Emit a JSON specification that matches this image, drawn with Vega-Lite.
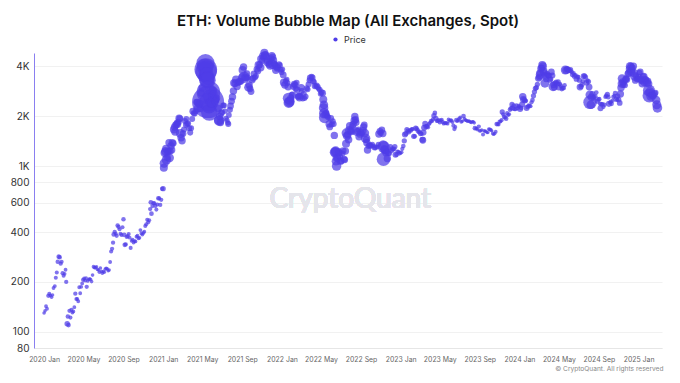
{
"$schema":"https://vega.github.io/schema/vega-lite/v6.json",
"width":628,"height":295,
"autosize":{"type":"none"},
"padding":{"left":34,"top":53,"right":18,"bottom":35},
"background":"white",
"title":{"text":"ETH: Volume Bubble Map (All Exchanges, Spot)","font":"Inter","fontSize":15,"fontWeight":600,"color":"#111111","anchor":"middle","offset":6},
"config":{"view":{"stroke":null},"legend":{"layout":{"top":{"anchor":"middle"}}}},
"data":{"values":[
{"d":"2020-01-01","p":130,"v":0.7},{"d":"2020-01-04","p":134,"v":0.7},{"d":"2020-01-07","p":143,"v":0.8},{"d":"2020-01-10","p":138,"v":0.8},{"d":"2020-01-14","p":165,"v":1},{"d":"2020-01-17","p":170,"v":0.9},{"d":"2020-01-20","p":166,"v":0.7},{"d":"2020-01-24","p":162,"v":0.7},{"d":"2020-01-27","p":167,"v":0.7},{"d":"2020-01-30","p":184,"v":0.8},{"d":"2020-02-03","p":189,"v":0.8},{"d":"2020-02-06","p":212,"v":0.9},{"d":"2020-02-09","p":228,"v":0.9},{"d":"2020-02-12","p":265,"v":1.1},{"d":"2020-02-15","p":284,"v":1.2},{"d":"2020-02-18","p":282,"v":1.1},{"d":"2020-02-21","p":258,"v":1},{"d":"2020-02-24","p":265,"v":0.9},{"d":"2020-02-27","p":226,"v":1},{"d":"2020-03-01","p":218,"v":0.9},{"d":"2020-03-04","p":224,"v":0.8},{"d":"2020-03-07","p":237,"v":0.8},{"d":"2020-03-09","p":200,"v":1},{"d":"2020-03-12","p":112,"v":1.6},{"d":"2020-03-14","p":124,"v":1.1},{"d":"2020-03-16","p":110,"v":1.2},{"d":"2020-03-19","p":134,"v":1},{"d":"2020-03-22","p":122,"v":0.9},{"d":"2020-03-25","p":136,"v":0.9},{"d":"2020-03-28","p":131,"v":0.8},{"d":"2020-03-31","p":133,"v":0.8},{"d":"2020-04-03","p":141,"v":0.8},{"d":"2020-04-06","p":170,"v":1},{"d":"2020-04-09","p":158,"v":0.8},{"d":"2020-04-12","p":158,"v":0.8},{"d":"2020-04-15","p":153,"v":0.8},{"d":"2020-04-18","p":186,"v":0.8},{"d":"2020-04-21","p":171,"v":0.8},{"d":"2020-04-24","p":187,"v":0.8},{"d":"2020-04-27","p":196,"v":0.8},{"d":"2020-04-30","p":206,"v":1},{"d":"2020-05-03","p":210,"v":0.8},{"d":"2020-05-06","p":204,"v":0.8},{"d":"2020-05-09","p":211,"v":0.8},{"d":"2020-05-11","p":187,"v":1},{"d":"2020-05-14","p":203,"v":0.8},{"d":"2020-05-17","p":207,"v":0.7},{"d":"2020-05-20","p":209,"v":0.7},{"d":"2020-05-23","p":207,"v":0.7},{"d":"2020-05-26","p":201,"v":0.7},{"d":"2020-05-29","p":220,"v":0.7},{"d":"2020-06-01","p":247,"v":0.8},{"d":"2020-06-04","p":244,"v":0.7},{"d":"2020-06-07","p":244,"v":0.7},{"d":"2020-06-10","p":247,"v":0.7},{"d":"2020-06-13","p":238,"v":0.7},{"d":"2020-06-16","p":236,"v":0.7},{"d":"2020-06-19","p":229,"v":0.7},{"d":"2020-06-22","p":243,"v":0.7},{"d":"2020-06-25","p":232,"v":0.7},{"d":"2020-06-28","p":226,"v":0.7},{"d":"2020-07-01","p":231,"v":0.7},{"d":"2020-07-04","p":229,"v":0.7},{"d":"2020-07-07","p":239,"v":0.7},{"d":"2020-07-10","p":242,"v":0.7},{"d":"2020-07-13","p":240,"v":0.7},{"d":"2020-07-16","p":234,"v":0.7},{"d":"2020-07-19","p":236,"v":0.7},{"d":"2020-07-22","p":264,"v":0.8},{"d":"2020-07-25","p":305,"v":0.9},{"d":"2020-07-28","p":317,"v":1},{"d":"2020-07-31","p":345,"v":1},{"d":"2020-08-02","p":387,"v":1.2},{"d":"2020-08-05","p":401,"v":1},{"d":"2020-08-08","p":391,"v":0.9},{"d":"2020-08-11","p":380,"v":1},{"d":"2020-08-14","p":438,"v":1.1},{"d":"2020-08-17","p":429,"v":1},{"d":"2020-08-20","p":416,"v":0.9},{"d":"2020-08-23","p":391,"v":0.9},{"d":"2020-08-26","p":384,"v":0.9},{"d":"2020-08-29","p":428,"v":0.9},{"d":"2020-09-01","p":477,"v":1.1},{"d":"2020-09-03","p":385,"v":1.2},{"d":"2020-09-05","p":335,"v":1.2},{"d":"2020-09-08","p":337,"v":1},{"d":"2020-09-11","p":374,"v":0.9},{"d":"2020-09-14","p":378,"v":0.9},{"d":"2020-09-17","p":389,"v":0.9},{"d":"2020-09-20","p":370,"v":0.8},{"d":"2020-09-23","p":321,"v":0.9},{"d":"2020-09-26","p":354,"v":0.8},{"d":"2020-09-29","p":360,"v":0.8},{"d":"2020-10-02","p":346,"v":0.8},{"d":"2020-10-05","p":353,"v":0.8},{"d":"2020-10-08","p":351,"v":0.8},{"d":"2020-10-11","p":375,"v":0.8},{"d":"2020-10-14","p":380,"v":0.8},{"d":"2020-10-17","p":367,"v":0.8},{"d":"2020-10-20","p":369,"v":0.8},{"d":"2020-10-23","p":411,"v":0.8},{"d":"2020-10-26","p":393,"v":0.8},{"d":"2020-10-29","p":386,"v":0.8},{"d":"2020-11-01","p":395,"v":0.8},{"d":"2020-11-04","p":402,"v":0.8},{"d":"2020-11-07","p":435,"v":0.9},{"d":"2020-11-10","p":446,"v":0.9},{"d":"2020-11-13","p":475,"v":0.9},{"d":"2020-11-16","p":459,"v":0.9},{"d":"2020-11-19","p":471,"v":0.9},{"d":"2020-11-22","p":550,"v":1},{"d":"2020-11-24","p":604,"v":1.2},{"d":"2020-11-26","p":516,"v":1.2},{"d":"2020-11-29","p":574,"v":1},{"d":"2020-12-02","p":597,"v":1},{"d":"2020-12-05","p":596,"v":0.9},{"d":"2020-12-08","p":575,"v":0.9},{"d":"2020-12-11","p":546,"v":0.9},{"d":"2020-12-14","p":586,"v":0.9},{"d":"2020-12-17","p":640,"v":1.1},{"d":"2020-12-20","p":638,"v":0.9},{"d":"2020-12-23","p":583,"v":1},{"d":"2020-12-26","p":626,"v":1},{"d":"2020-12-29","p":730,"v":1.1},
{"d":"2021-01-01","p":730,"v":1.5},{"d":"2021-01-03","p":975,"v":3.5},{"d":"2021-01-04","p":1040,"v":4.5},{"d":"2021-01-06","p":1200,"v":4},{"d":"2021-01-08","p":1225,"v":4},{"d":"2021-01-10","p":1270,"v":3.5},{"d":"2021-01-11","p":1090,"v":5},{"d":"2021-01-13","p":1130,"v":3},{"d":"2021-01-15","p":1215,"v":3},{"d":"2021-01-17","p":1230,"v":2.5},{"d":"2021-01-19","p":1380,"v":3},{"d":"2021-01-21","p":1120,"v":4},{"d":"2021-01-23","p":1230,"v":2.5},{"d":"2021-01-25","p":1320,"v":3},{"d":"2021-01-27","p":1250,"v":3},{"d":"2021-01-29","p":1380,"v":3},{"d":"2021-02-01","p":1370,"v":2.5},{"d":"2021-02-03","p":1660,"v":3.5},{"d":"2021-02-05","p":1720,"v":3},{"d":"2021-02-07","p":1610,"v":3.5},{"d":"2021-02-09","p":1770,"v":3},{"d":"2021-02-11","p":1780,"v":2.5},{"d":"2021-02-13","p":1820,"v":2.5},{"d":"2021-02-15","p":1780,"v":2.5},{"d":"2021-02-17","p":1840,"v":2.5},{"d":"2021-02-19","p":1940,"v":3},{"d":"2021-02-21","p":1930,"v":2.5},{"d":"2021-02-23","p":1570,"v":4.5},{"d":"2021-02-25","p":1480,"v":3},{"d":"2021-02-28","p":1420,"v":3},{"d":"2021-03-03","p":1570,"v":2.5},{"d":"2021-03-06","p":1660,"v":2},{"d":"2021-03-09","p":1870,"v":2},{"d":"2021-03-12","p":1770,"v":2},{"d":"2021-03-13","p":1920,"v":2},{"d":"2021-03-16","p":1790,"v":2},{"d":"2021-03-19","p":1810,"v":1.8},{"d":"2021-03-22","p":1690,"v":2},{"d":"2021-03-25","p":1590,"v":2},{"d":"2021-03-28","p":1690,"v":1.8},{"d":"2021-03-31","p":1920,"v":2},{"d":"2021-04-02","p":2140,"v":2.5},{"d":"2021-04-05","p":2080,"v":2},{"d":"2021-04-08","p":2070,"v":2},{"d":"2021-04-11","p":2140,"v":1.8},{"d":"2021-04-14","p":2430,"v":2.5},{"d":"2021-04-16","p":2420,"v":3},{"d":"2021-04-18","p":2230,"v":4},{"d":"2021-04-21","p":2360,"v":2.5},{"d":"2021-04-23","p":2370,"v":3.5},{"d":"2021-04-25","p":2220,"v":3},{"d":"2021-04-28","p":2750,"v":3},{"d":"2021-05-01","p":2950,"v":3},{"d":"2021-05-03","p":3430,"v":5},{"d":"2021-05-05","p":3530,"v":5},{"d":"2021-05-07","p":3480,"v":5},{"d":"2021-05-09","p":3920,"v":8},{"d":"2021-05-10","p":3950,"v":15},{"d":"2021-05-11","p":4170,"v":18},{"d":"2021-05-12","p":3820,"v":28},{"d":"2021-05-13","p":3720,"v":25},{"d":"2021-05-15","p":3580,"v":10},{"d":"2021-05-16","p":3280,"v":12},{"d":"2021-05-17","p":3290,"v":15},{"d":"2021-05-18","p":3380,"v":10},{"d":"2021-05-19","p":2430,"v":56},{"d":"2021-05-20","p":2780,"v":30},{"d":"2021-05-21","p":2430,"v":20},{"d":"2021-05-22","p":2300,"v":12},{"d":"2021-05-23","p":2100,"v":15},{"d":"2021-05-24","p":2640,"v":10},{"d":"2021-05-26","p":2880,"v":6},{"d":"2021-05-28","p":2420,"v":6},{"d":"2021-05-30","p":2400,"v":4},{"d":"2021-06-01","p":2630,"v":4},{"d":"2021-06-03","p":2860,"v":3.5},{"d":"2021-06-06","p":2720,"v":3},{"d":"2021-06-08","p":2520,"v":4},{"d":"2021-06-10","p":2450,"v":3},{"d":"2021-06-13","p":2510,"v":2.5},{"d":"2021-06-15","p":2570,"v":2.5},{"d":"2021-06-18","p":2230,"v":3},{"d":"2021-06-21","p":1890,"v":5},{"d":"2021-06-22","p":1880,"v":6},{"d":"2021-06-24","p":1990,"v":3},{"d":"2021-06-26","p":1830,"v":3},{"d":"2021-06-28","p":2080,"v":2.5},{"d":"2021-07-01","p":2110,"v":2},{"d":"2021-07-04","p":2320,"v":1.8},{"d":"2021-07-07","p":2320,"v":1.8},{"d":"2021-07-10","p":2140,"v":1.5},{"d":"2021-07-13","p":1940,"v":1.5},{"d":"2021-07-16","p":1890,"v":1.5},{"d":"2021-07-19","p":1820,"v":1.5},{"d":"2021-07-20","p":1790,"v":2},{"d":"2021-07-22","p":2030,"v":1.8},{"d":"2021-07-25","p":2180,"v":2},{"d":"2021-07-27","p":2300,"v":2.5},{"d":"2021-07-30","p":2460,"v":2.5},{"d":"2021-08-02","p":2610,"v":3},{"d":"2021-08-05","p":2830,"v":3},{"d":"2021-08-07","p":3160,"v":3.5},{"d":"2021-08-10","p":3140,"v":3},{"d":"2021-08-13","p":3320,"v":3.5},{"d":"2021-08-16","p":3010,"v":3},{"d":"2021-08-19","p":3180,"v":2.5},{"d":"2021-08-22","p":3240,"v":2.5},{"d":"2021-08-25","p":3230,"v":2.5},{"d":"2021-08-28","p":3240,"v":2.5},{"d":"2021-08-31","p":3430,"v":3},{"d":"2021-09-02","p":3790,"v":3.5},{"d":"2021-09-05","p":3950,"v":3},{"d":"2021-09-07","p":3430,"v":7},{"d":"2021-09-09","p":3430,"v":3},{"d":"2021-09-12","p":3400,"v":2.5},{"d":"2021-09-15","p":3610,"v":2.5},{"d":"2021-09-18","p":3400,"v":2},{"d":"2021-09-20","p":2980,"v":4},{"d":"2021-09-22","p":3080,"v":3},{"d":"2021-09-25","p":2920,"v":2.5},{"d":"2021-09-28","p":2810,"v":2.5},{"d":"2021-10-01","p":3310,"v":3},{"d":"2021-10-04","p":3380,"v":2.5},{"d":"2021-10-07","p":3590,"v":2.5},{"d":"2021-10-10","p":3420,"v":2},{"d":"2021-10-13","p":3490,"v":2},{"d":"2021-10-16","p":3830,"v":2.5},{"d":"2021-10-19","p":3740,"v":2.5},{"d":"2021-10-21","p":4060,"v":3.5},{"d":"2021-10-24","p":4080,"v":2.5},{"d":"2021-10-27","p":3930,"v":3.5},{"d":"2021-10-29","p":4410,"v":3.5},{"d":"2021-11-01","p":4310,"v":2.5},{"d":"2021-11-03","p":4600,"v":3},{"d":"2021-11-06","p":4520,"v":2.5},{"d":"2021-11-08","p":4810,"v":3.5},{"d":"2021-11-10","p":4650,"v":4},{"d":"2021-11-12","p":4670,"v":2.5},{"d":"2021-11-15","p":4570,"v":2.5},{"d":"2021-11-17","p":4210,"v":3},{"d":"2021-11-19","p":4290,"v":3},{"d":"2021-11-22","p":4090,"v":2.5},{"d":"2021-11-24","p":4270,"v":2.5},{"d":"2021-11-26","p":4040,"v":4},{"d":"2021-11-29","p":4440,"v":2.5},{"d":"2021-12-01","p":4630,"v":3},{"d":"2021-12-03","p":4530,"v":3},{"d":"2021-12-04","p":4100,"v":5},{"d":"2021-12-06","p":4340,"v":3},{"d":"2021-12-09","p":4100,"v":2.5},{"d":"2021-12-11","p":4080,"v":2},{"d":"2021-12-13","p":3780,"v":3},{"d":"2021-12-15","p":3960,"v":3},{"d":"2021-12-17","p":3860,"v":2},{"d":"2021-12-20","p":3940,"v":2},{"d":"2021-12-23","p":4110,"v":2},{"d":"2021-12-26","p":4050,"v":1.8},{"d":"2021-12-28","p":3800,"v":2},{"d":"2021-12-31","p":3680,"v":1.8},
{"d":"2022-01-02","p":3830,"v":1.8},{"d":"2022-01-05","p":3540,"v":2.5},{"d":"2022-01-07","p":3190,"v":3.5},{"d":"2022-01-10","p":3080,"v":3},{"d":"2022-01-13","p":3250,"v":2},{"d":"2022-01-16","p":3330,"v":1.5},{"d":"2022-01-18","p":3160,"v":2},{"d":"2022-01-20","p":3000,"v":3},{"d":"2022-01-21","p":2560,"v":7},{"d":"2022-01-22","p":2410,"v":6},{"d":"2022-01-24","p":2440,"v":6},{"d":"2022-01-26","p":2460,"v":4},{"d":"2022-01-28","p":2550,"v":3},{"d":"2022-01-31","p":2690,"v":2},{"d":"2022-02-03","p":2680,"v":2.5},{"d":"2022-02-05","p":3020,"v":2.5},{"d":"2022-02-08","p":3120,"v":2.5},{"d":"2022-02-10","p":3080,"v":2.5},{"d":"2022-02-12","p":2920,"v":2},{"d":"2022-02-15","p":3180,"v":2},{"d":"2022-02-17","p":2880,"v":2.5},{"d":"2022-02-20","p":2620,"v":2.5},{"d":"2022-02-22","p":2640,"v":2.5},{"d":"2022-02-24","p":2600,"v":4},{"d":"2022-02-27","p":2620,"v":2},{"d":"2022-03-01","p":2970,"v":3},{"d":"2022-03-03","p":2830,"v":2},{"d":"2022-03-06","p":2550,"v":1.8},{"d":"2022-03-09","p":2730,"v":2},{"d":"2022-03-12","p":2560,"v":1.5},{"d":"2022-03-15","p":2620,"v":1.8},{"d":"2022-03-18","p":2940,"v":2},{"d":"2022-03-21","p":2900,"v":1.8},{"d":"2022-03-24","p":3110,"v":2},{"d":"2022-03-27","p":3290,"v":2},{"d":"2022-03-29","p":3400,"v":2.5},{"d":"2022-04-02","p":3450,"v":2},{"d":"2022-04-05","p":3410,"v":2},{"d":"2022-04-07","p":3240,"v":2},{"d":"2022-04-10","p":3210,"v":1.5},{"d":"2022-04-12","p":3030,"v":2},{"d":"2022-04-15","p":3040,"v":1.5},{"d":"2022-04-18","p":3060,"v":1.8},{"d":"2022-04-21","p":2990,"v":2},{"d":"2022-04-24","p":2920,"v":1.5},{"d":"2022-04-27","p":2890,"v":1.8},{"d":"2022-04-30","p":2730,"v":1.8},{"d":"2022-05-03","p":2780,"v":2},{"d":"2022-05-06","p":2750,"v":2.5},{"d":"2022-05-08","p":2520,"v":3.5},{"d":"2022-05-09","p":2240,"v":5},{"d":"2022-05-10","p":2340,"v":4},{"d":"2022-05-11","p":2080,"v":6},{"d":"2022-05-12","p":1960,"v":7},{"d":"2022-05-14","p":2050,"v":3},{"d":"2022-05-17","p":2090,"v":2},{"d":"2022-05-20","p":2010,"v":2},{"d":"2022-05-23","p":1970,"v":2},{"d":"2022-05-26","p":1790,"v":3},{"d":"2022-05-28","p":1720,"v":2.5},{"d":"2022-05-31","p":1940,"v":2.5},{"d":"2022-06-03","p":1780,"v":2},{"d":"2022-06-06","p":1860,"v":2},{"d":"2022-06-09","p":1790,"v":2},{"d":"2022-06-11","p":1530,"v":3},{"d":"2022-06-13","p":1210,"v":6},{"d":"2022-06-14","p":1210,"v":5},{"d":"2022-06-15","p":1230,"v":5},{"d":"2022-06-16","p":1070,"v":4},{"d":"2022-06-18","p":1000,"v":5},{"d":"2022-06-19","p":1120,"v":4},{"d":"2022-06-21","p":1120,"v":3},{"d":"2022-06-24","p":1220,"v":3},{"d":"2022-06-26","p":1200,"v":2.5},{"d":"2022-06-28","p":1140,"v":2.5},{"d":"2022-06-30","p":1070,"v":3},{"d":"2022-07-03","p":1070,"v":2},{"d":"2022-07-06","p":1190,"v":2},{"d":"2022-07-08","p":1240,"v":2.5},{"d":"2022-07-11","p":1100,"v":2.5},{"d":"2022-07-13","p":1090,"v":2.5},{"d":"2022-07-15","p":1230,"v":3},{"d":"2022-07-17","p":1360,"v":3.5},{"d":"2022-07-18","p":1580,"v":5},{"d":"2022-07-20","p":1520,"v":4},{"d":"2022-07-22","p":1540,"v":3},{"d":"2022-07-25","p":1440,"v":3},{"d":"2022-07-27","p":1640,"v":4},{"d":"2022-07-29","p":1740,"v":3.5},{"d":"2022-08-01","p":1630,"v":3},{"d":"2022-08-04","p":1610,"v":2.5},{"d":"2022-08-06","p":1730,"v":2.5},{"d":"2022-08-08","p":1780,"v":3},{"d":"2022-08-11","p":1880,"v":3},{"d":"2022-08-13","p":1990,"v":3},{"d":"2022-08-15","p":1900,"v":3},{"d":"2022-08-17","p":1830,"v":2.5},{"d":"2022-08-19","p":1610,"v":4},{"d":"2022-08-22","p":1620,"v":2.5},{"d":"2022-08-24","p":1660,"v":2},{"d":"2022-08-26","p":1500,"v":3},{"d":"2022-08-29","p":1550,"v":2.5},{"d":"2022-09-01","p":1590,"v":2.5},{"d":"2022-09-04","p":1570,"v":2},{"d":"2022-09-07","p":1630,"v":3},{"d":"2022-09-09","p":1720,"v":3},{"d":"2022-09-11","p":1770,"v":2.5},{"d":"2022-09-13","p":1580,"v":4},{"d":"2022-09-15","p":1470,"v":5},{"d":"2022-09-17","p":1440,"v":2.5},{"d":"2022-09-19","p":1380,"v":3},{"d":"2022-09-21","p":1250,"v":3},{"d":"2022-09-24","p":1320,"v":2},{"d":"2022-09-27","p":1340,"v":2},{"d":"2022-09-30","p":1330,"v":1.8},{"d":"2022-10-03","p":1320,"v":1.5},{"d":"2022-10-06","p":1350,"v":1.5},{"d":"2022-10-09","p":1320,"v":1.2},{"d":"2022-10-12","p":1290,"v":1.5},{"d":"2022-10-15","p":1280,"v":1.2},{"d":"2022-10-18","p":1310,"v":1.2},{"d":"2022-10-21","p":1300,"v":1.2},{"d":"2022-10-24","p":1350,"v":1.5},{"d":"2022-10-26","p":1560,"v":3},{"d":"2022-10-29","p":1620,"v":2.5},{"d":"2022-11-01","p":1580,"v":2},{"d":"2022-11-04","p":1650,"v":2.5},{"d":"2022-11-07","p":1570,"v":3},{"d":"2022-11-08","p":1330,"v":6},{"d":"2022-11-09","p":1100,"v":10},{"d":"2022-11-10","p":1300,"v":8},{"d":"2022-11-12","p":1260,"v":4},{"d":"2022-11-14","p":1250,"v":3.5},{"d":"2022-11-16","p":1200,"v":2.5},{"d":"2022-11-19","p":1220,"v":1.8},{"d":"2022-11-21","p":1110,"v":3},{"d":"2022-11-24","p":1200,"v":2},{"d":"2022-11-27","p":1190,"v":1.5},{"d":"2022-11-30","p":1300,"v":2},{"d":"2022-12-03","p":1240,"v":1.5},{"d":"2022-12-06","p":1270,"v":1.5},{"d":"2022-12-09","p":1260,"v":1.2},{"d":"2022-12-12","p":1270,"v":1.2},{"d":"2022-12-14","p":1310,"v":1.5},{"d":"2022-12-16","p":1170,"v":2},{"d":"2022-12-19","p":1170,"v":1.2},{"d":"2022-12-22","p":1220,"v":1},{"d":"2022-12-25","p":1220,"v":0.8},{"d":"2022-12-28","p":1190,"v":1},{"d":"2022-12-31","p":1200,"v":0.8},
{"d":"2023-01-03","p":1210,"v":1},{"d":"2023-01-06","p":1270,"v":1},{"d":"2023-01-09","p":1320,"v":1.2},{"d":"2023-01-12","p":1420,"v":1.5},{"d":"2023-01-14","p":1550,"v":2},{"d":"2023-01-17","p":1570,"v":1.5},{"d":"2023-01-20","p":1660,"v":1.5},{"d":"2023-01-23","p":1630,"v":1.2},{"d":"2023-01-26","p":1600,"v":1.2},{"d":"2023-01-29","p":1640,"v":1},{"d":"2023-02-01","p":1640,"v":1.2},{"d":"2023-02-04","p":1670,"v":1},{"d":"2023-02-07","p":1670,"v":1},{"d":"2023-02-10","p":1510,"v":1.5},{"d":"2023-02-13","p":1510,"v":1.2},{"d":"2023-02-16","p":1690,"v":1.5},{"d":"2023-02-19","p":1680,"v":1.2},{"d":"2023-02-22","p":1640,"v":1.2},{"d":"2023-02-25","p":1600,"v":1},{"d":"2023-02-28","p":1610,"v":1},{"d":"2023-03-03","p":1570,"v":1.5},{"d":"2023-03-06","p":1560,"v":1},{"d":"2023-03-09","p":1440,"v":2},{"d":"2023-03-10","p":1430,"v":2.5},{"d":"2023-03-12","p":1590,"v":2},{"d":"2023-03-14","p":1700,"v":2},{"d":"2023-03-17","p":1800,"v":1.8},{"d":"2023-03-20","p":1730,"v":1.5},{"d":"2023-03-23","p":1740,"v":1.2},{"d":"2023-03-26","p":1710,"v":1},{"d":"2023-03-29","p":1790,"v":1},{"d":"2023-04-01","p":1820,"v":0.9},{"d":"2023-04-04","p":1870,"v":1},{"d":"2023-04-07","p":1860,"v":0.9},{"d":"2023-04-10","p":1910,"v":1},{"d":"2023-04-13","p":2010,"v":1.5},{"d":"2023-04-16","p":2090,"v":1.2},{"d":"2023-04-19","p":1940,"v":1.5},{"d":"2023-04-22","p":1870,"v":1},{"d":"2023-04-25","p":1870,"v":1},{"d":"2023-04-28","p":1890,"v":0.9},{"d":"2023-05-01","p":1830,"v":1},{"d":"2023-05-04","p":1880,"v":0.9},{"d":"2023-05-07","p":1900,"v":0.9},{"d":"2023-05-10","p":1840,"v":1},{"d":"2023-05-13","p":1800,"v":0.8},{"d":"2023-05-16","p":1820,"v":0.8},{"d":"2023-05-19","p":1810,"v":0.8},{"d":"2023-05-22","p":1820,"v":0.8},{"d":"2023-05-25","p":1800,"v":0.8},{"d":"2023-05-28","p":1910,"v":0.8},{"d":"2023-05-31","p":1870,"v":0.8},{"d":"2023-06-03","p":1890,"v":0.7},{"d":"2023-06-06","p":1880,"v":0.9},{"d":"2023-06-09","p":1840,"v":0.8},{"d":"2023-06-12","p":1750,"v":1},{"d":"2023-06-15","p":1670,"v":1},{"d":"2023-06-18","p":1720,"v":0.8},{"d":"2023-06-21","p":1890,"v":1.2},{"d":"2023-06-24","p":1870,"v":0.9},{"d":"2023-06-27","p":1890,"v":0.8},{"d":"2023-06-30","p":1930,"v":1},{"d":"2023-07-03","p":1960,"v":0.8},{"d":"2023-07-06","p":1850,"v":0.9},{"d":"2023-07-09","p":1860,"v":0.7},{"d":"2023-07-13","p":2000,"v":1.2},{"d":"2023-07-16","p":1920,"v":0.8},{"d":"2023-07-19","p":1890,"v":0.7},{"d":"2023-07-22","p":1880,"v":0.7},{"d":"2023-07-25","p":1860,"v":0.7},{"d":"2023-07-28","p":1870,"v":0.7},{"d":"2023-07-31","p":1860,"v":0.7},{"d":"2023-08-03","p":1840,"v":0.7},{"d":"2023-08-06","p":1830,"v":0.6},{"d":"2023-08-09","p":1850,"v":0.7},{"d":"2023-08-12","p":1850,"v":0.6},{"d":"2023-08-15","p":1820,"v":0.7},{"d":"2023-08-17","p":1690,"v":1.2},{"d":"2023-08-20","p":1680,"v":0.7},{"d":"2023-08-23","p":1680,"v":0.7},{"d":"2023-08-26","p":1650,"v":0.6},{"d":"2023-08-29","p":1730,"v":1},{"d":"2023-09-01","p":1630,"v":0.8},{"d":"2023-09-04","p":1630,"v":0.6},{"d":"2023-09-07","p":1650,"v":0.6},{"d":"2023-09-11","p":1550,"v":0.9},{"d":"2023-09-14","p":1630,"v":0.7},{"d":"2023-09-17","p":1620,"v":0.6},{"d":"2023-09-20","p":1620,"v":0.7},{"d":"2023-09-23","p":1590,"v":0.6},{"d":"2023-09-26","p":1590,"v":0.6},{"d":"2023-09-29","p":1670,"v":0.8},{"d":"2023-10-02","p":1660,"v":0.9},{"d":"2023-10-05","p":1650,"v":0.8},{"d":"2023-10-08","p":1630,"v":0.6},{"d":"2023-10-11","p":1570,"v":0.8},{"d":"2023-10-14","p":1550,"v":0.6},{"d":"2023-10-17","p":1570,"v":0.7},{"d":"2023-10-20","p":1610,"v":0.8},{"d":"2023-10-23","p":1790,"v":1.2},{"d":"2023-10-26","p":1790,"v":1},{"d":"2023-10-29","p":1780,"v":0.8},{"d":"2023-11-01","p":1850,"v":1},{"d":"2023-11-04","p":1860,"v":0.8},{"d":"2023-11-07","p":1890,"v":0.9},{"d":"2023-11-09","p":2120,"v":1.5},{"d":"2023-11-12","p":2050,"v":1},{"d":"2023-11-15","p":1980,"v":1.2},{"d":"2023-11-18","p":1960,"v":0.9},{"d":"2023-11-21","p":1930,"v":1.2},{"d":"2023-11-24","p":2080,"v":1},{"d":"2023-11-27","p":2030,"v":0.9},{"d":"2023-11-30","p":2050,"v":0.9},{"d":"2023-12-03","p":2190,"v":1.2},{"d":"2023-12-06","p":2230,"v":1.2},{"d":"2023-12-09","p":2350,"v":1.5},{"d":"2023-12-11","p":2230,"v":1.5},{"d":"2023-12-14","p":2310,"v":1.2},{"d":"2023-12-17","p":2200,"v":1},{"d":"2023-12-20","p":2200,"v":1},{"d":"2023-12-23","p":2310,"v":1.2},{"d":"2023-12-26","p":2230,"v":1},{"d":"2023-12-29","p":2300,"v":1},{"d":"2023-12-31","p":2280,"v":0.8},
{"d":"2024-01-03","p":2210,"v":2},{"d":"2024-01-06","p":2240,"v":1.2},{"d":"2024-01-09","p":2350,"v":2},{"d":"2024-01-11","p":2620,"v":3},{"d":"2024-01-13","p":2520,"v":2.5},{"d":"2024-01-15","p":2510,"v":1.5},{"d":"2024-01-18","p":2470,"v":1.5},{"d":"2024-01-21","p":2470,"v":1},{"d":"2024-01-23","p":2240,"v":2},{"d":"2024-01-26","p":2270,"v":1.2},{"d":"2024-01-29","p":2320,"v":1},{"d":"2024-02-01","p":2300,"v":1},{"d":"2024-02-04","p":2290,"v":0.9},{"d":"2024-02-07","p":2420,"v":1},{"d":"2024-02-10","p":2500,"v":1.2},{"d":"2024-02-13","p":2650,"v":1.5},{"d":"2024-02-16","p":2800,"v":1.5},{"d":"2024-02-19","p":2940,"v":1.5},{"d":"2024-02-22","p":2970,"v":1.5},{"d":"2024-02-25","p":3110,"v":1.5},{"d":"2024-02-28","p":3380,"v":2.5},{"d":"2024-03-02","p":3430,"v":2.5},{"d":"2024-03-04","p":3640,"v":3},{"d":"2024-03-05","p":3550,"v":4.5},{"d":"2024-03-07","p":3870,"v":3},{"d":"2024-03-09","p":3900,"v":2.5},{"d":"2024-03-11","p":4070,"v":3.5},{"d":"2024-03-13","p":4000,"v":3.5},{"d":"2024-03-15","p":3730,"v":3.5},{"d":"2024-03-17","p":3640,"v":3},{"d":"2024-03-19","p":3160,"v":4.5},{"d":"2024-03-21","p":3500,"v":3},{"d":"2024-03-23","p":3330,"v":2},{"d":"2024-03-26","p":3590,"v":2},{"d":"2024-03-29","p":3510,"v":1.8},{"d":"2024-04-01","p":3510,"v":2},{"d":"2024-04-03","p":3310,"v":2},{"d":"2024-04-06","p":3350,"v":1.5},{"d":"2024-04-08","p":3690,"v":2.5},{"d":"2024-04-11","p":3510,"v":2},{"d":"2024-04-13","p":3010,"v":4.5},{"d":"2024-04-15","p":3090,"v":2.5},{"d":"2024-04-17","p":2980,"v":2.5},{"d":"2024-04-20","p":3150,"v":1.8},{"d":"2024-04-23","p":3200,"v":1.5},{"d":"2024-04-26","p":3130,"v":1.5},{"d":"2024-04-29","p":3210,"v":1.5},{"d":"2024-05-01","p":2970,"v":2},{"d":"2024-05-04","p":3120,"v":1.2},{"d":"2024-05-07","p":3050,"v":1.2},{"d":"2024-05-10","p":2910,"v":1.2},{"d":"2024-05-13","p":2950,"v":1.2},{"d":"2024-05-16","p":2950,"v":1.2},{"d":"2024-05-19","p":3070,"v":1},{"d":"2024-05-21","p":3790,"v":4.5},{"d":"2024-05-23","p":3780,"v":3},{"d":"2024-05-26","p":3830,"v":2},{"d":"2024-05-28","p":3840,"v":1.8},{"d":"2024-05-31","p":3760,"v":1.5},{"d":"2024-06-03","p":3770,"v":1.5},{"d":"2024-06-06","p":3810,"v":1.5},{"d":"2024-06-09","p":3700,"v":1.2},{"d":"2024-06-12","p":3560,"v":1.5},{"d":"2024-06-15","p":3620,"v":1.2},{"d":"2024-06-18","p":3480,"v":1.5},{"d":"2024-06-21","p":3520,"v":1.2},{"d":"2024-06-24","p":3350,"v":1.8},{"d":"2024-06-27","p":3450,"v":1.2},{"d":"2024-06-30","p":3440,"v":1},{"d":"2024-07-03","p":3290,"v":1.5},{"d":"2024-07-05","p":2990,"v":2.5},{"d":"2024-07-08","p":3020,"v":1.5},{"d":"2024-07-11","p":3100,"v":1.5},{"d":"2024-07-14","p":3240,"v":1.2},{"d":"2024-07-16","p":3480,"v":1.8},{"d":"2024-07-19","p":3500,"v":1.5},{"d":"2024-07-22","p":3440,"v":1.5},{"d":"2024-07-25","p":3180,"v":1.8},{"d":"2024-07-28","p":3270,"v":1.2},{"d":"2024-07-31","p":3230,"v":1.5},{"d":"2024-08-02","p":2990,"v":2.5},{"d":"2024-08-04","p":2690,"v":4},{"d":"2024-08-05","p":2420,"v":10},{"d":"2024-08-07","p":2340,"v":4},{"d":"2024-08-09","p":2600,"v":3},{"d":"2024-08-12","p":2720,"v":2},{"d":"2024-08-15","p":2570,"v":1.5},{"d":"2024-08-18","p":2610,"v":1},{"d":"2024-08-21","p":2630,"v":1.2},{"d":"2024-08-24","p":2770,"v":1.2},{"d":"2024-08-27","p":2460,"v":1.5},{"d":"2024-08-30","p":2520,"v":1.2},{"d":"2024-09-02","p":2530,"v":1.2},{"d":"2024-09-05","p":2370,"v":1.2},{"d":"2024-09-06","p":2230,"v":2},{"d":"2024-09-09","p":2350,"v":1.2},{"d":"2024-09-12","p":2360,"v":1},{"d":"2024-09-15","p":2270,"v":1},{"d":"2024-09-18","p":2340,"v":1.2},{"d":"2024-09-21","p":2610,"v":1},{"d":"2024-09-24","p":2650,"v":1.2},{"d":"2024-09-27","p":2700,"v":1.5},{"d":"2024-09-30","p":2600,"v":1.2},{"d":"2024-10-02","p":2370,"v":2},{"d":"2024-10-05","p":2410,"v":0.9},{"d":"2024-10-08","p":2440,"v":1},{"d":"2024-10-10","p":2370,"v":1.2},{"d":"2024-10-13","p":2470,"v":0.9},{"d":"2024-10-16","p":2610,"v":1.2},{"d":"2024-10-19","p":2650,"v":1},{"d":"2024-10-21","p":2750,"v":1.2},{"d":"2024-10-24","p":2530,"v":1.5},{"d":"2024-10-27","p":2510,"v":1},{"d":"2024-10-29","p":2640,"v":1.5},{"d":"2024-11-01","p":2510,"v":1.5},{"d":"2024-11-04","p":2400,"v":1.8},{"d":"2024-11-06","p":2720,"v":3},{"d":"2024-11-08","p":2960,"v":3},{"d":"2024-11-10","p":3130,"v":3.5},{"d":"2024-11-11","p":3370,"v":4},{"d":"2024-11-13","p":3210,"v":3},{"d":"2024-11-15","p":3100,"v":2.5},{"d":"2024-11-18","p":3210,"v":2},{"d":"2024-11-20","p":3070,"v":2},{"d":"2024-11-22","p":3330,"v":2.5},{"d":"2024-11-24","p":3360,"v":2.5},{"d":"2024-11-26","p":3320,"v":2.5},{"d":"2024-11-29","p":3590,"v":2.5},{"d":"2024-12-02","p":3640,"v":3},{"d":"2024-12-04","p":3840,"v":3},{"d":"2024-12-06","p":3990,"v":4},{"d":"2024-12-08","p":4000,"v":2.5},{"d":"2024-12-09","p":3710,"v":4},{"d":"2024-12-11","p":3800,"v":3},{"d":"2024-12-13","p":3910,"v":2.5},{"d":"2024-12-16","p":3990,"v":3},{"d":"2024-12-18","p":3630,"v":3.5},{"d":"2024-12-20","p":3470,"v":4.5},{"d":"2024-12-22","p":3280,"v":2.5},{"d":"2024-12-24","p":3490,"v":2},{"d":"2024-12-27","p":3330,"v":2},{"d":"2024-12-30","p":3360,"v":2},
{"d":"2025-01-02","p":3450,"v":2},{"d":"2025-01-04","p":3650,"v":1.8},{"d":"2025-01-06","p":3690,"v":2.5},{"d":"2025-01-08","p":3320,"v":3},{"d":"2025-01-10","p":3270,"v":2.5},{"d":"2025-01-13","p":3140,"v":3.5},{"d":"2025-01-15","p":3460,"v":2.5},{"d":"2025-01-17","p":3470,"v":3},{"d":"2025-01-19","p":3210,"v":4},{"d":"2025-01-21","p":3310,"v":3},{"d":"2025-01-24","p":3300,"v":2.5},{"d":"2025-01-27","p":3180,"v":3.5},{"d":"2025-01-30","p":3250,"v":2.5},{"d":"2025-02-01","p":3120,"v":3},{"d":"2025-02-02","p":2850,"v":8},{"d":"2025-02-03","p":2650,"v":10},{"d":"2025-02-05","p":2790,"v":5},{"d":"2025-02-07","p":2630,"v":4},{"d":"2025-02-10","p":2670,"v":3},{"d":"2025-02-13","p":2670,"v":2.5},{"d":"2025-02-16","p":2660,"v":2.5},{"d":"2025-02-19","p":2720,"v":2.5},{"d":"2025-02-22","p":2760,"v":2},{"d":"2025-02-24","p":2500,"v":4},{"d":"2025-02-26","p":2340,"v":4.5},{"d":"2025-02-28","p":2240,"v":5}
]},
"layer":[
{"mark":{"type":"text","text":"CryptoQuant","font":"Lato","fontSize":28,"color":"#e5e5eb","baseline":"middle","align":"center"},
 "encoding":{"x":{"datum":{"year":2022,"month":7,"date":30,"utc":true},"type":"temporal"},"y":{"datum":620,"type":"quantitative"}}},
{"mark":{"type":"circle","opacity":0.72,"stroke":null},
 "encoding":{
  "x":{"field":"d","type":"temporal","scale":{"type":"utc","domain":[{"year":2019,"month":12,"date":1,"utc":true},{"year":2025,"month":3,"date":14,"utc":true}],"nice":false},
   "axis":{"title":"© CryptoQuant. All rights reserved","titleFont":"Inter","titleFontSize":6.6,"titleFontWeight":"normal","titleColor":"#888888","titleAnchor":"end","titleAlign":"right","titleX":629,"titlePadding":4,
    "values":[{"year":2020,"month":1,"date":1,"utc":true},{"year":2020,"month":5,"date":1,"utc":true},{"year":2020,"month":9,"date":1,"utc":true},{"year":2021,"month":1,"date":1,"utc":true},{"year":2021,"month":5,"date":1,"utc":true},{"year":2021,"month":9,"date":1,"utc":true},{"year":2022,"month":1,"date":1,"utc":true},{"year":2022,"month":5,"date":1,"utc":true},{"year":2022,"month":9,"date":1,"utc":true},{"year":2023,"month":1,"date":1,"utc":true},{"year":2023,"month":5,"date":1,"utc":true},{"year":2023,"month":9,"date":1,"utc":true},{"year":2024,"month":1,"date":1,"utc":true},{"year":2024,"month":5,"date":1,"utc":true},{"year":2024,"month":9,"date":1,"utc":true},{"year":2025,"month":1,"date":1,"utc":true}],
    "labelExpr":"utcFormat(datum.value, '%Y %b')","labelFont":"Inter","labelFontSize":6.9,"labelColor":"#666666","labelPadding":8,"labelFlush":false,"labelOverlap":false,"labelAlign":"center",
    "ticks":false,"grid":false,"domainColor":"#e6e6e6"}},
  "y":{"field":"p","type":"quantitative","scale":{"type":"log","domain":[80,4800],"nice":false},
   "axis":{"title":null,"values":[80,100,200,400,600,800,1000,2000,4000],"labelExpr":"datum.value >= 1000 ? (datum.value/1000) + 'K' : datum.value","labelFont":"Inter","labelFontSize":10,"labelColor":"#333333","labelPadding":5,"ticks":false,"grid":true,"gridColor":"#f1f1f1","domainColor":"#8a7ff0","labelOverlap":false}},
  "size":{"field":"v","type":"quantitative","scale":{"type":"linear","domain":[0,60],"range":[0,1100]},"legend":null},
  "color":{"datum":"Price","type":"nominal","scale":{"range":["#4f3de8"]},
   "legend":{"orient":"top","title":null,"offset":8,"symbolType":"circle","symbolSize":18,"labelFont":"Inter","labelFontSize":9,"labelColor":"#333333","symbolOpacity":1}}
 }}
]}
